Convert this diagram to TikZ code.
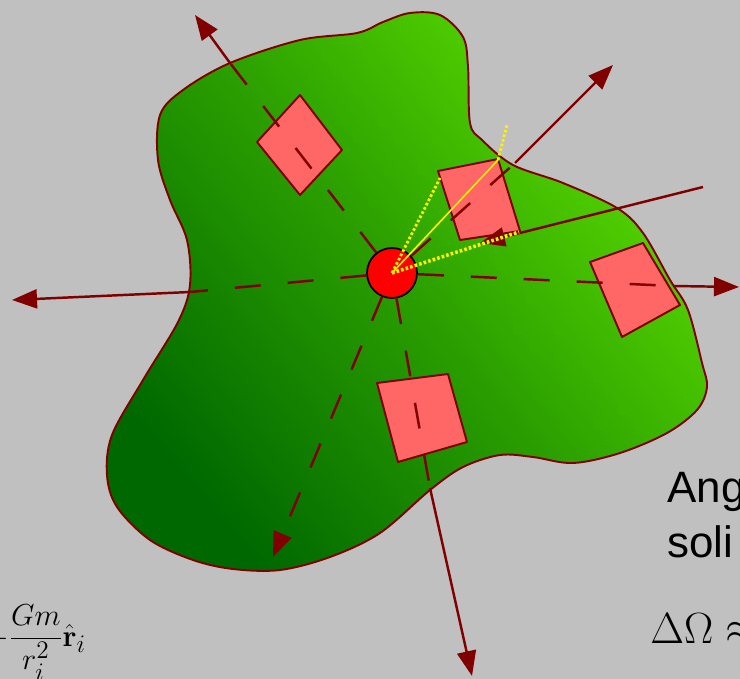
\documentclass[tikz,border=0pt]{standalone}
\usepackage{amsmath}
\usepackage[no-math]{fontspec}
\setmainfont{Liberation Sans}
\usepackage{xcolor}
\usetikzlibrary{arrows.meta,positioning}
\definecolor{bggray}{HTML}{C0C0C0}
\definecolor{maroon}{HTML}{800000}
\definecolor{tilered}{HTML}{FF6666}
\definecolor{darkgreen}{HTML}{006800}
\definecolor{midgreen}{HTML}{2A9E00}
\definecolor{lightgreen}{HTML}{5ADC00}
\tikzset{
  ray/.style={maroon, line width=1.4pt, -{Triangle[length=0.5cm,width=0.38cm]}},
  inray/.style={maroon, line width=1.4pt, dash pattern=on 0.52cm off 0.54cm},
  tile/.style={fill=tilered, draw=maroon, line width=1.1pt, line join=round},
  cone/.style={yellow, line width=0.9pt},
  dotcone/.style={yellow, line width=1.6pt, dash pattern=on 1.5pt off 1.2pt},
  ball/.style={circle, fill=red, draw=black, line width=1pt, minimum size=1cm, inner sep=0pt},
  label/.style={inner sep=0pt, anchor=base west, font=\fontsize{25}{30}\selectfont},
}

\begin{document}
\begin{tikzpicture}[x=0.02cm, y=-0.02cm]
  \useasboundingbox[fill=bggray] (0,0) rectangle (740,679);
  % the body
  \path[draw=maroon, line width=1.1pt, bottom color=darkgreen, top color=lightgreen,
        middle color=midgreen, shading angle=-50]
    plot[smooth cycle, tension=0.55] coordinates {
      (160,115) (183,90) (230,63) (300,40) (357,33) (383,22) (410,13) (440,15)
      (463,37) (468,67) (470,123) (482,140) (513,165) (563,183) (617,208)
      (643,233) (670,280) (688,310) (702,363) (707,387) (697,410) (667,433)
      (620,453) (573,463) (533,457) (500,455) (463,467) (430,490) (380,533)
      (330,557) (280,570) (233,569) (193,560) (150,540) (117,507) (107,475)
      (112,435) (143,380) (178,322) (190,285) (187,240) (170,200) (158,160)};
  % mass elements
  \draw[tile] (300,95) -- (342,150) -- (300,195) -- (257,142) -- cycle;
  \draw[tile] (590,262) -- (643,243) -- (680,305) -- (622,337) -- cycle;
  \draw[tile] (377,383) -- (448,374) -- (467,442) -- (398,462) -- cycle;
  \draw[tile] (438,171) -- (498,159) -- (520,231) -- (460,240) -- cycle;
  \coordinate (s2a) at (440,178);
  \coordinate (s2b) at (498,160);
  \coordinate (s2c) at (519,232);
  \coordinate (s2t) at (507,125);

  \node[ball] (C) at (392,273) {};

  % edge points and tips
  \coordinate (eW) at (190,292);   \coordinate (tW) at (12,300);
  \coordinate (eE) at (673,286);   \coordinate (tE) at (739,287);
  \coordinate (eNW) at (230,63);   \coordinate (tNW) at (195,15);
  \coordinate (eNE) at (515,163);  \coordinate (tNE) at (613,65);
  \coordinate (eS) at (430,488);   \coordinate (tS) at (472,676);
  \coordinate (tSW) at (273,557);
  \coordinate (sIn) at (703,187);  \coordinate (tIn) at (480,243);

  \draw[inray] (C) -- (eW);
  \draw[ray] (eW) -- (tW);
  \draw[inray] (C) -- (eE);
  \draw[ray] (eE) -- (tE);
  \draw[inray] (C) -- (eNW);
  \draw[ray] (eNW) -- (tNW);
  \draw[inray] (C) -- (eNE);
  \draw[ray] (eNE) -- (tNE);
  \draw[inray] (C) -- (eS);
  \draw[ray] (eS) -- (tS);
  \draw[inray, -{Triangle[length=0.5cm,width=0.38cm]}] (C) -- (tSW);
  \draw[ray] (sIn) -- (tIn);

  % solid angle
  \draw[dotcone] (C.center) -- (s2a);
  \draw[cone] (C.center) -- (s2b);
  \draw[dotcone] (s2b) -- (s2t);
  \draw[dotcone, line width=2pt] (C.center) -- (s2c);

  % texts
  \node[label] (ang) at (667,502) {Ang};
  \node[label] (soli) at (667,557) {soli};
  \node[label, font=\fontsize{23}{28}\selectfont] (domega) at (650,643) {$\Delta\Omega\approx$};
  \node[label, font=\fontsize{19}{23}\selectfont] (force) at (-15,646)
    {$-\dfrac{Gm}{r_i^2}\hat{\mathbf{r}}_i$};
\end{tikzpicture}
\end{document}
